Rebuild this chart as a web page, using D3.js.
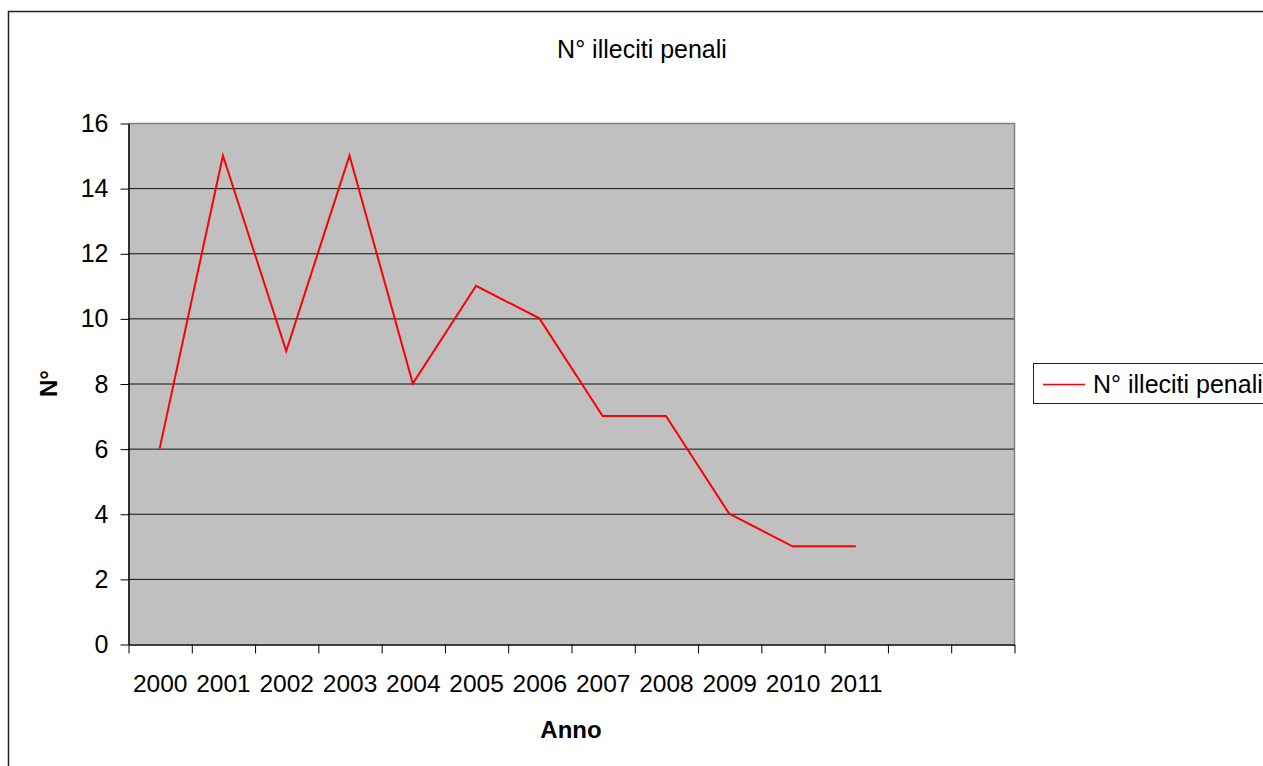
<!DOCTYPE html>
<html>
<head>
<meta charset="utf-8">
<script src="https://cdn.jsdelivr.net/npm/d3@7"></script>
<style>
  html, body { margin: 0; padding: 0; background: #fff; overflow: hidden; }
  svg { display: block; font-family: "Liberation Sans", Arial, sans-serif; }
</style>
</head>
<body>
<svg id="chart" width="1263" height="766"></svg>
<script>
const categories = ["2000","2001","2002","2003","2004","2005","2006","2007","2008","2009","2010","2011"];
const slotCount = 14; // category slots on the axis (two empty at the end)
const values = [6, 15, 9, 15, 8, 11, 10, 7, 7, 4, 3, 3];
const yTicks = [0, 2, 4, 6, 8, 10, 12, 14, 16];
const seriesName = "N° illeciti penali";
const chartTitle = "N° illeciti penali";
const xTitle = "Anno";
const yTitle = "N°";

const svg = d3.select("#chart");
const plot = { left: 128, right: 1014, top: 123, bottom: 644 };

const x = d3.scaleLinear().domain([0, slotCount]).range([plot.left, plot.right]);
const y = d3.scaleLinear().domain([0, 16]).range([plot.bottom, plot.top]);

// outer chart frame
svg.append("rect")
  .attr("x", 8.5).attr("y", 11.5).attr("width", 1300).attr("height", 800)
  .attr("fill", "#fff").attr("stroke", "#222").attr("stroke-width", 1.5);

// plot background
svg.append("rect")
  .attr("x", plot.left).attr("y", plot.top)
  .attr("width", plot.right - plot.left).attr("height", plot.bottom - plot.top)
  .attr("fill", "#c0c0c0");

// gridlines
svg.append("g")
  .attr("transform", `translate(${plot.left},0)`)
  .call(d3.axisLeft(y).tickValues(yTicks.slice(1, -1)).tickSize(-(plot.right - plot.left)).tickFormat(""))
  .call(g => g.select(".domain").remove())
  .call(g => g.selectAll("line").attr("stroke", "#111").attr("stroke-width", 1));

// plot border (top & right gray)
svg.append("path")
  .attr("d", `M${plot.left},${plot.top + 0.5}H${plot.right + 0.5}V${plot.bottom}`)
  .attr("fill", "none").attr("stroke", "#808080").attr("stroke-width", 1.5);

// y axis
const yAxis = svg.append("g")
  .attr("transform", `translate(${plot.left + 0.5},0.5)`)
  .call(d3.axisLeft(y).tickValues(yTicks).tickSize(8).tickPadding(12).tickSizeOuter(0));
yAxis.select(".domain").attr("stroke", "#000").attr("stroke-width", 1.5);
yAxis.selectAll("text").attr("font-size", 25).attr("fill", "#000")
  .attr("font-family", "Liberation Sans, Arial, sans-serif");

// x axis ticks (slot boundaries)
const xAxis = svg.append("g")
  .attr("transform", `translate(0.5,${plot.bottom + 0.5})`)
  .call(d3.axisBottom(x).tickValues(d3.range(slotCount + 1)).tickSize(9).tickSizeOuter(0).tickFormat(""));
xAxis.select(".domain").attr("stroke", "#000").attr("stroke-width", 1.5);
xAxis.selectAll("line").attr("stroke", "#000");

// x category labels
const xLabels = svg.append("g")
  .attr("transform", `translate(0,${plot.bottom})`)
  .call(d3.axisBottom(x).tickValues(categories.map((c, i) => i + 0.5))
    .tickFormat((d) => categories[Math.round(d - 0.5)]).tickSize(0).tickPadding(31));
xLabels.select(".domain").remove();
xLabels.selectAll("text").attr("font-size", 24.5).attr("fill", "#000")
  .attr("font-family", "Liberation Sans, Arial, sans-serif");

// line
const line = d3.line()
  .x((d, i) => x(i + 0.5))
  .y(d => y(d));
svg.append("path")
  .datum(values)
  .attr("d", line)
  .attr("fill", "none")
  .attr("stroke", "#ff0000")
  .attr("stroke-width", 2);

// title
svg.append("text")
  .attr("x", 642).attr("y", 58)
  .attr("text-anchor", "middle")
  .attr("font-size", 25)
  .text(chartTitle);

// x title
svg.append("text")
  .attr("x", 571).attr("y", 738)
  .attr("text-anchor", "middle")
  .attr("font-size", 24).attr("font-weight", "bold")
  .text(xTitle);

// y title
svg.append("text")
  .attr("transform", `translate(57,${(plot.top + plot.bottom) / 2}) rotate(-90)`)
  .attr("text-anchor", "middle")
  .attr("font-size", 24).attr("font-weight", "bold")
  .text(yTitle);

// legend
const legend = svg.append("g");
legend.append("rect")
  .attr("x", 1033.5).attr("y", 363.5).attr("width", 260).attr("height", 40)
  .attr("fill", "#fff").attr("stroke", "#222").attr("stroke-width", 1);
legend.append("line")
  .attr("x1", 1043).attr("x2", 1085).attr("y1", 384.5).attr("y2", 384.5)
  .attr("stroke", "#ff0000").attr("stroke-width", 1.5);
legend.append("text")
  .attr("x", 1093).attr("y", 393)
  .attr("font-size", 25)
  .text(seriesName);
</script>
</body>
</html>
